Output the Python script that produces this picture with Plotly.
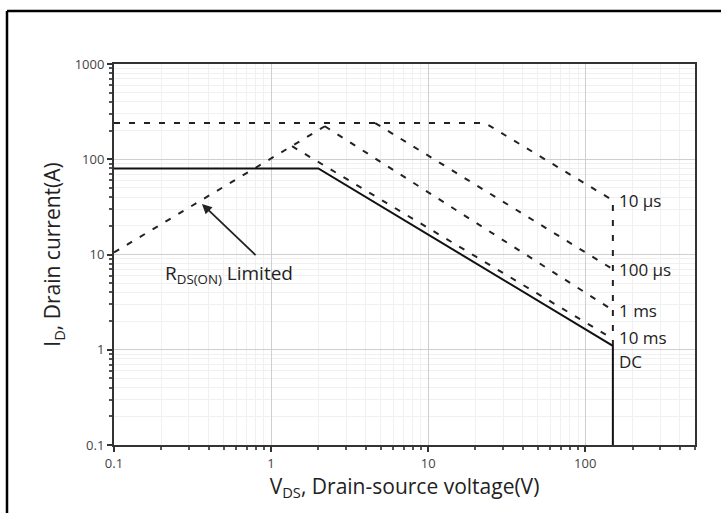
import math
import plotly.graph_objects as go

# Safe operating area data (V, A)
rds_v = [0.1, 2.2]
rds_i = [10.5, 222]
us10_v = [0.1, 23, 150, 150]
us10_i = [240, 240, 37, 1.12]
us100_v = [4.6, 150]
us100_i = [240, 7.0]
ms1_v = [2.2, 150]
ms1_i = [222, 2.6]
ms10_v = [1.36, 150]
ms10_i = [137, 1.3]
dc_v = [0.1, 2.0, 150, 150]
dc_i = [80, 80, 1.1, 0.1]

label_text = ["10 µs", "100 µs", "1 ms", "10 ms", "DC"]
label_y = [37, 7.0, 2.6, 1.36, 0.75]

x_ticks = [0.1, 1, 10, 100]
y_ticks = [0.1, 1, 10, 100, 1000]

FONT = "Open Sans"
fig = go.Figure()
dash_style = dict(color="#222222", width=2, dash="6px,9px")
for v, i in [(rds_v, rds_i), (us10_v, us10_i), (us100_v, us100_i), (ms1_v, ms1_i), (ms10_v, ms10_i)]:
    fig.add_trace(go.Scatter(x=v, y=i, mode="lines", line=dash_style, showlegend=False, hoverinfo="skip"))
fig.add_trace(go.Scatter(x=dc_v, y=dc_i, mode="lines", line=dict(color="#111111", width=2), showlegend=False))

for t, y in zip(label_text, label_y):
    fig.add_annotation(x=math.log10(167), y=math.log10(y), xref="x", yref="y", text=t, showarrow=False,
                       xanchor="left", yanchor="middle", xshift=-2, borderpad=0,
                       font=dict(family=FONT, size=17, color="#222"))

fig.add_annotation(x=math.log10(0.363), y=math.log10(34), ax=math.log10(0.815), ay=math.log10(9.5),
                   axref="x", ayref="y", xref="x", yref="y", text="", showarrow=True, arrowhead=2,
                   arrowsize=1.1, arrowwidth=1.8, arrowcolor="#222")
fig.add_annotation(x=math.log10(0.205), y=math.log10(6.3), xref="x", yref="y",
                   text="R<sub>DS(ON)</sub> Limited", showarrow=False, xanchor="left", yanchor="middle",
                   font=dict(family=FONT, size=19, color="#222"))

px0 = (7 - 114) / 581
py1 = (445 - 11) / 381
fig.add_shape(type="line", xref="paper", yref="paper", x0=px0, x1=1.1, y0=py1, y1=py1,
              line=dict(color="black", width=2.5))
fig.add_shape(type="line", xref="paper", yref="paper", x0=px0, x1=px0, y0=py1, y1=-0.3,
              line=dict(color="black", width=2.5))

axis_common = dict(type="log", showline=True, linecolor="#333", linewidth=2, mirror=True,
                   showgrid=True, gridcolor="#cfcfcf", gridwidth=1, zeroline=False,
                   ticks="outside", ticklen=5, tickwidth=1.5, tickcolor="#333",
                   tickfont=dict(family=FONT, size=13, color="#444"),
                   minor=dict(showgrid=True, gridcolor="#f0f0f0", ticks="outside", ticklen=3,
                              tickcolor="#555", dtick="D1"))

fig.update_xaxes(range=[-1, math.log10(500)], tickvals=x_ticks, ticktext=[str(v) for v in x_ticks],
                 title=dict(text="V<sub>DS</sub>, Drain-source voltage(V)", font=dict(family=FONT, size=21, color="#222"), standoff=8),
                 **axis_common)
fig.update_yaxes(range=[-1, 3], tickvals=y_ticks, ticktext=[str(v) for v in y_ticks],
                 title=dict(text="I<sub>D</sub>, Drain current(A)", font=dict(family=FONT, size=21, color="#222"), standoff=8),
                 **axis_common)

fig.update_layout(width=721, height=513, margin=dict(l=114, r=26, t=64, b=68),
                  plot_bgcolor="white", paper_bgcolor="white", font=dict(family=FONT))
fig.write_html("out.html")
